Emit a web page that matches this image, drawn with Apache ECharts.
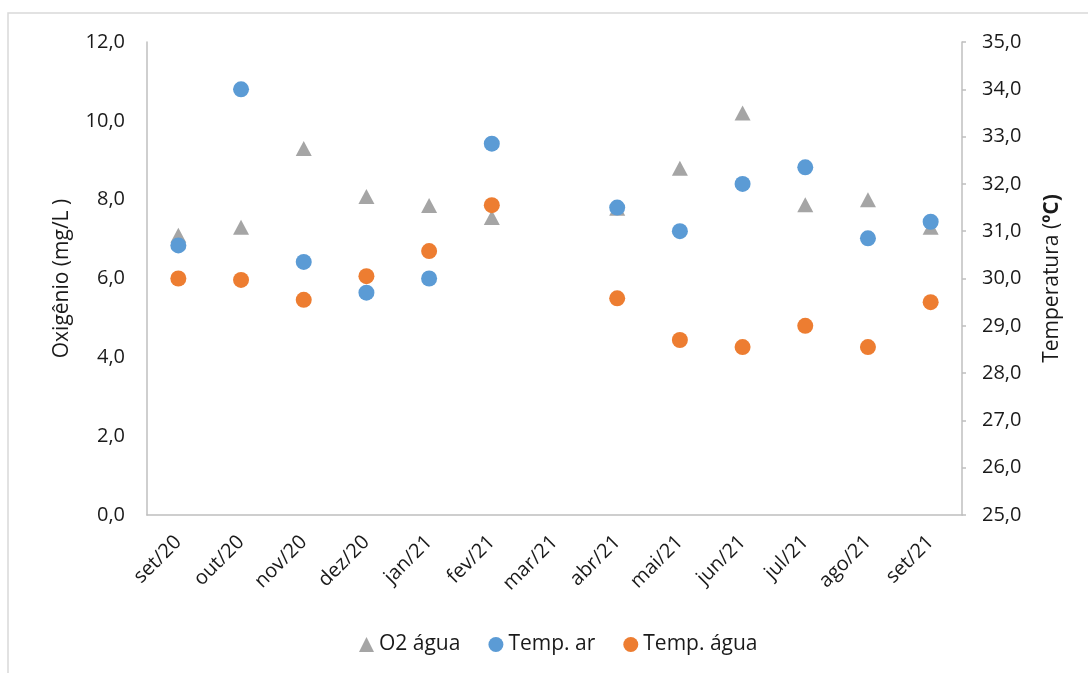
<!DOCTYPE html>
<html>
<head>
<meta charset="utf-8">
<title>Oxigênio e temperatura</title>
<script src="https://cdn.jsdelivr.net/npm/echarts@6/dist/echarts.min.js"></script>
<style>
  html, body { margin: 0; padding: 0; background: #ffffff; }
  #chart { width: 1088px; height: 673px; }
</style>
</head>
<body>
<div id="chart"></div>
<script>
// Monthly samples, set/2020 – set/2021 (no sample in mar/21)
const categories = ['set/20', 'out/20', 'nov/20', 'dez/20', 'jan/21', 'fev/21', 'mar/21',
                    'abr/21', 'mai/21', 'jun/21', 'jul/21', 'ago/21', 'set/21'];
// Dissolved oxygen (mg/L), left axis
const o2Agua = [7.1, 7.3, 9.3, 8.08, 7.85, 7.55, null, 7.78, 8.8, 10.2, 7.87, 8.0, 7.3];
// Air temperature (ºC), right axis
const tempAr = [30.7, 34.0, 30.35, 29.7, 30.0, 32.85, null, 31.5, 31.0, 32.0, 32.35, 30.85, 31.2];
// Water temperature (ºC), right axis
const tempAgua = [30.0, 29.97, 29.55, 30.05, 30.58, 31.55, null, 29.58, 28.7, 28.55, 29.0, 28.55, 29.5];

const FONT = '"Open Sans", "Noto Sans", sans-serif';
const TEXT = '#1a1a1a';
const AXIS = '#BFBFBF';
const fmt = v => v.toFixed(1).replace('.', ',');

const chart = echarts.init(document.getElementById('chart'), null, { renderer: 'canvas' });

chart.setOption({
  backgroundColor: '#ffffff',
  animation: false,
  textStyle: { fontFamily: FONT, color: TEXT },
  graphic: [{
    type: 'rect',
    silent: true,
    shape: { x: 8, y: 13, width: 1100, height: 700 },
    style: { fill: 'none', stroke: '#D9D9D9', lineWidth: 1.5 }
  }],
  grid: { left: 147, right: 126, top: 42, bottom: 158, containLabel: false },
  legend: {
    top: 629,
    left: 354,
    itemWidth: 15,
    itemHeight: 15,
    itemGap: 28,
    textStyle: { fontFamily: FONT, fontSize: 21, color: TEXT },
    data: [
      { name: 'O2 água', icon: 'triangle' },
      { name: 'Temp. ar', icon: 'circle' },
      { name: 'Temp. água', icon: 'circle' }
    ]
  },
  xAxis: {
    type: 'category',
    data: categories,
    boundaryGap: true,
    axisLine: { lineStyle: { color: AXIS, width: 1.5 } },
    axisTick: { show: false },
    axisLabel: {
      rotate: 45,
      interval: 0,
      margin: 24,
      fontFamily: FONT,
      fontSize: 20,
      color: TEXT
    },
    splitLine: { show: false }
  },
  yAxis: [{
    type: 'value',
    position: 'left',
    min: 0,
    max: 12,
    interval: 2,
    name: 'Oxigênio (mg/L )',
    nameLocation: 'middle',
    nameGap: 74,
    nameTextStyle: { fontFamily: FONT, fontSize: 21, color: TEXT },
    axisLine: { show: true, lineStyle: { color: AXIS, width: 1.5 } },
    axisTick: { show: false },
    axisLabel: { formatter: fmt, margin: 22, fontFamily: FONT, fontSize: 20, color: TEXT },
    splitLine: { show: false }
  }, {
    type: 'value',
    position: 'right',
    min: 25,
    max: 35,
    interval: 1,
    name: 'Temperatura ({b|ºC)}',
    nameLocation: 'middle',
    nameGap: 80,
    nameTextStyle: {
      fontFamily: FONT, fontSize: 21, color: TEXT,
      rich: { b: { fontFamily: FONT, fontSize: 21, fontWeight: 'bold', color: TEXT } }
    },
    axisLine: { show: true, lineStyle: { color: AXIS, width: 1.5 } },
    axisTick: { show: true, length: 4, lineStyle: { color: AXIS, width: 1.5 } },
    axisLabel: { formatter: fmt, margin: 20, fontFamily: FONT, fontSize: 20, color: TEXT },
    splitLine: { show: false }
  }],
  series: [{
    name: 'O2 água',
    type: 'scatter',
    yAxisIndex: 0,
    symbol: 'triangle',
    symbolSize: [16, 15],
    itemStyle: { color: '#A5A5A5', opacity: 1 },
    data: o2Agua
  }, {
    name: 'Temp. ar',
    type: 'scatter',
    yAxisIndex: 1,
    symbol: 'circle',
    symbolSize: 16,
    itemStyle: { color: '#5B9BD5', opacity: 1 },
    data: tempAr
  }, {
    name: 'Temp. água',
    type: 'scatter',
    yAxisIndex: 1,
    symbol: 'circle',
    symbolSize: 16,
    itemStyle: { color: '#ED7D31', opacity: 1 },
    data: tempAgua
  }]
});
</script>
</body>
</html>
